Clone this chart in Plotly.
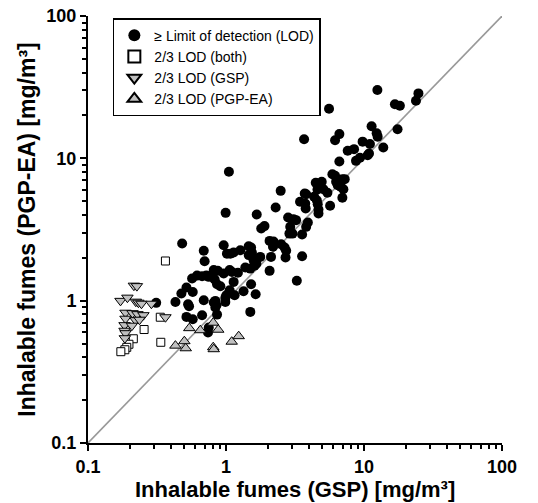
import plotly.graph_objects as go

# ---- data ----
lod_x = [24.8, 23.8, 12.5, 5.58, 16.75, 18.2, 17.5, 11.35, 12.35, 12.56, 3.68, 13.8, 9.77, 11.04,
         10.87, 10.63, 6.17, 6.63, 7.62, 8.47, 8.75, 9.35, 6.63, 1.05, 5.9, 6.17, 6.97, 7.25,
         6.28, 6.45, 6.78, 7.09, 6.97, 4.47, 4.94, 4.6, 5.08, 5.43, 2.49, 3.72, 3.81, 4.35,
         4.55, 3.44, 3.75, 3.78, 4.62, 4.68, 4.68, 5.68, 2.29, 0.994, 1.67, 2.82, 3.08, 3.22,
         3.92, 3.81, 1.8, 1.9, 2.92, 3.03, 2.88, 3.56, 0.481, 2.07, 2.21, 2.19, 2.51, 2.66,
         2.73, 0.962, 0.69, 0.70, 1.016, 1.075, 1.136, 1.27, 1.46, 1.52, 1.54, 1.46, 1.585,
         1.675, 1.77, 1.38, 1.61, 1.66, 3.56, 2.12, 2.70, 2.07, 1.50, 0.815, 0.871, 0.962,
         1.063, 1.105, 1.22, 0.568, 0.617, 0.671, 0.721, 0.75, 0.792, 0.828, 0.861, 0.91,
         1.136, 3.26, 0.517, 0.574, 1.52, 1.063, 1.006, 0.989, 1.34, 0.475, 1.64, 1.155,
         0.837, 0.815, 0.851, 0.837, 0.69, 0.43, 0.531, 0.54, 0.312, 0.989, 1.50, 0.517,
         0.574, 0.671, 0.861, 0.75, 0.741]
lod_y = [28.6, 25.4, 30.2, 22.3, 24.0, 23.4, 16.0, 16.8, 15.0, 14.2, 13.6, 11.9, 13.1, 12.6,
         10.8, 10.5, 13.4, 14.8, 11.3, 11.6, 9.6, 10.1, 9.5, 8.04, 7.74, 7.54, 7.14, 7.14,
         6.84, 6.48, 6.31, 6.07, 5.28, 6.73, 6.84, 6.04, 6.07, 5.73, 5.91, 5.66, 5.6, 5.37,
         5.08, 4.95, 4.82, 4.44, 4.76, 4.37, 4.10, 4.64, 4.51, 4.14, 4.03, 3.84, 3.74, 3.68,
         3.54, 3.30, 3.21, 3.34, 3.30, 2.96, 2.96, 2.92, 2.52, 2.63, 2.60, 2.39, 2.49, 2.36,
         2.24, 2.45, 2.24, 1.89, 2.14, 2.14, 2.18, 2.26, 2.41, 2.36, 2.18, 2.09, 1.92,
         1.97, 2.03, 1.71, 1.76, 1.82, 2.05, 2.03, 2.01, 1.62, 1.68, 1.64, 1.62, 1.55,
         1.64, 1.59, 1.57, 1.43, 1.50, 1.485, 1.50, 1.47, 1.51, 1.41, 1.305, 1.264,
         1.355, 1.38, 1.236, 1.152, 1.305, 1.184, 1.092, 1.046, 1.165, 1.122, 1.11, 1.092,
         0.996, 0.97, 0.929, 0.895, 1.007, 0.98, 0.944, 0.914, 0.965, 0.98, 0.834, 0.769,
         0.74, 0.79, 0.798, 0.647, 0.597]

both_x = [0.364, 0.334, 0.255, 0.337, 0.213, 0.198, 0.191, 0.185, 0.173]
both_y = [1.90, 0.765, 0.627, 0.51, 0.54, 0.494, 0.47, 0.452, 0.438]

gsp_x = [0.215, 0.226, 0.172, 0.193, 0.222, 0.232, 0.244, 0.288, 0.364, 0.187, 0.21, 0.228,
         0.252, 0.187, 0.221, 0.236, 0.184, 0.208, 0.184, 0.187, 0.185]
gsp_y = [1.275, 1.265, 0.997, 1.05, 0.984, 0.968, 0.952, 0.952, 0.765, 0.823, 0.817, 0.804,
         0.791, 0.747, 0.729, 0.735, 0.673, 0.667, 0.615, 0.591, 0.545]

pgp_x = [0.542, 0.651, 0.808, 0.878, 0.43, 0.499, 0.511, 0.808, 0.815, 1.10, 1.236]
pgp_y = [0.641, 0.62, 0.70, 0.625, 0.483, 0.519, 0.463, 0.471, 0.456, 0.515, 0.563]

identity = [0.1, 100]

tick_vals = [0.1, 1, 10, 100]
tick_text = ["0.1", "1", "10", "100"]
minor_vals = [0.2, 0.3, 0.4, 0.5, 0.6, 0.7, 0.8, 0.9,
              2, 3, 4, 5, 6, 7, 8, 9,
              20, 30, 40, 50, 60, 70, 80, 90]

x_title = "Inhalable fumes (GSP) [mg/m³]"
y_title = "Inhalable fumes (PGP-EA) [mg/m³]"

FONT = "Liberation Sans, Arial, sans-serif"
GRAY = "#c0c0c0"

fig = go.Figure()
fig.add_trace(go.Scatter(x=identity, y=identity, mode="lines",
                         line=dict(color="#999999", width=1.6),
                         showlegend=False, hoverinfo="skip"))
fig.add_trace(go.Scatter(x=lod_x, y=lod_y, mode="markers", name="≥ Limit of detection (LOD)",
                         marker=dict(symbol="circle", size=10, color="black",
                                     line=dict(color="black", width=0))))
fig.add_trace(go.Scatter(x=both_x, y=both_y, mode="markers", name="2/3 LOD (both)",
                         marker=dict(symbol="square", size=8, color="white",
                                     line=dict(color="black", width=1))))
fig.add_trace(go.Scatter(x=gsp_x, y=gsp_y, mode="markers", name="2/3 LOD (GSP)",
                         marker=dict(symbol="triangle-down", size=10, color=GRAY,
                                     line=dict(color="black", width=1))))
fig.add_trace(go.Scatter(x=pgp_x, y=pgp_y, mode="markers", name="2/3 LOD (PGP-EA)",
                         marker=dict(symbol="triangle-up", size=10, color=GRAY,
                                     line=dict(color="black", width=1))))

axis_common = dict(
    type="log", range=[-1, 2], automargin=False,
    tickmode="array", tickvals=tick_vals, ticktext=tick_text,
    ticks="outside", ticklen=6, tickwidth=2, tickcolor="black",
    showline=True, linecolor="black", linewidth=2,
    showgrid=False, zeroline=False, mirror=False,
    tickfont=dict(family=FONT, size=18, color="black", weight="bold"),
    minor=dict(tickmode="array", tickvals=minor_vals, ticks="outside",
               ticklen=4, tickwidth=1.5, tickcolor="black", showgrid=False),
)

fig.update_xaxes(**axis_common)
fig.update_yaxes(**axis_common,
                 title=dict(text="<b>" + y_title + "</b>", standoff=4,
                            font=dict(family=FONT, size=23, color="black")))

fig.add_annotation(text="<b>" + x_title + "</b>", xref="paper", yref="paper",
                   x=0.5, y=-0.108, xanchor="center", yanchor="middle",
                   showarrow=False, font=dict(family=FONT, size=22, color="black"))

fig.update_layout(
    width=538, height=503,
    margin=dict(l=88, r=36, t=16, b=60, autoexpand=False),
    paper_bgcolor="white", plot_bgcolor="white",
    font=dict(family=FONT, color="black"),
    legend=dict(x=0.06, y=0.995, xanchor="left", yanchor="top",
                bordercolor="black", borderwidth=1.5, bgcolor="white",
                font=dict(family=FONT, size=14, color="black"),
                itemsizing="constant", tracegroupgap=0),
)

fig.write_html("out.html")
